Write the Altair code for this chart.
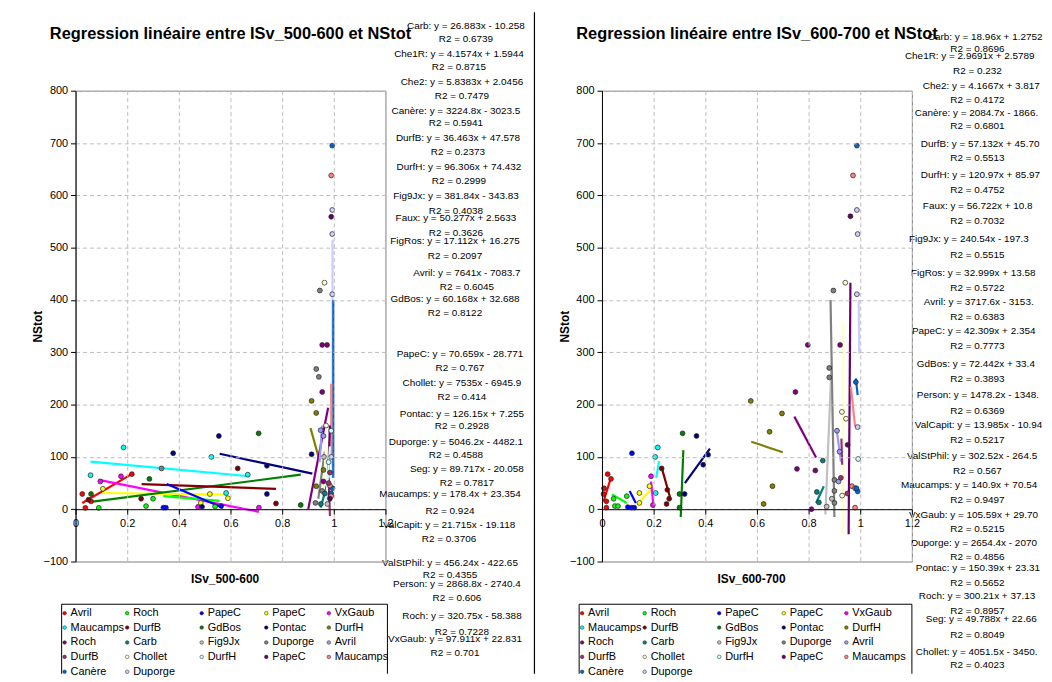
import altair as alt
import pandas as pd

FONT = "Liberation Sans"

# ---------------- series (legend order) ----------------
SERIES_NAMES = ["Avril", "Roch", "PapeC", "PapeC", "VxGaub",
                "Maucamps", "DurfB", "GdBos", "Pontac", "DurfH",
                "Roch", "Carb", "Fig9Jx", "Duporge", "Avril",
                "DurfB", "Chollet", "DurfH", "PapeC", "Maucamps",
                "Canère", "Duporge"]
SERIES_COLORS = ["#FF0000", "#00FF00", "#0000FF", "#FFFF00", "#FF00FF",
                 "#00FFFF", "#800000", "#008000", "#000080", "#808000",
                 "#800080", "#008080", "#C0C0C0", "#808080", "#9999FF",
                 "#993366", "#FFFFCC", "#CCFFFF", "#660066", "#FF8080",
                 "#0066CC", "#CCCCFF"]
SERIES_IDS = [f"s{i:02d}" for i in range(len(SERIES_NAMES))]

X_TICKS = [0, 0.2, 0.4, 0.6, 0.8, 1.0, 1.2]
Y_TICKS = [-100, 0, 100, 200, 300, 400, 500, 600, 700, 800]

# ---------------- left panel : ISv_500-600 ----------------
L_TITLE = "Regression linéaire entre ISv_500-600 et NStot"
L_XTITLE = "ISv_500-600"
L_PT_S = [0, 0, 0, 0,
          1, 1, 1, 1,
          7, 7, 7, 7,
          5, 5, 5, 5, 5,
          4, 4, 4, 4,
          3, 3, 3, 3,
          6, 6, 6, 6,
          8, 8, 8, 8, 8, 8,
          2, 2, 2,
          9, 9, 9, 9,
          13, 13, 13, 13, 13, 13,
          10, 10, 10, 10,
          14, 14,
          20, 20, 20,
          19, 19, 19,
          21, 21, 21, 21,
          18, 18,
          16, 16,
          12, 12,
          11, 11,
          15, 15,
          17, 17]
L_PT_X = [0.026, 0.038, 0.218, 0.06,
          0.09, 0.273, 0.30, 0.54,
          0.06, 0.709, 0.872, 0.286,
          0.058, 0.186, 0.526, 0.583, 0.667,
          0.096, 0.176, 0.474, 0.71,
          0.106, 0.485, 0.52, 0.59,
          0.254, 0.628, 0.776, 0.05,
          0.378, 0.555, 0.741, 0.741, 0.49, 0.914,
          0.34, 0.564, 0.35,
          0.914, 0.932, 0.96, 0.932,
          0.932, 0.942, 0.955, 0.929, 0.946, 0.333,
          0.955, 0.974, 0.955, 0.96,
          0.949, 0.96,
          0.994, 0.995, 0.99,
          0.99, 0.99, 0.985,
          0.994, 0.994, 0.994, 0.99,
          0.99, 0.985,
          0.964, 0.97,
          0.975, 0.962,
          0.95, 0.965,
          0.98, 0.985,
          0.99, 0.98]
L_PT_Y = [29, 2.5, 67, 15,
          2.5, 6, 20, 5,
          29, 145, 8, 58,
          65, 118, 100, 31, 66,
          53, 63, 4.5, 3,
          39, 12, 29, 21,
          20, 78, 11, 18,
          107, 140, 83, 29, 4.5, 105,
          3, 6, 3,
          207, 184, 75, 44,
          268, 253, 35, 12, 418, 78,
          314, 314, 224, 53,
          151, 140,
          695, 40, 30,
          638, 25, 45,
          572, 526, 411, 100,
          559, 20,
          433, 160,
          10, 100,
          10, 30,
          50, 70,
          150, 90]

L_LN_S = [0, 5, 4, 3, 7, 6, 1, 2, 8, 9, 10, 11, 15, 21, 20, 19, 14, 13, 18, 16, 17]
L_LN_X1 = [0.026, 0.058, 0.09, 0.103, 0.058, 0.256, 0.34, 0.353, 0.558, 0.91, 0.901,
           0.949, 0.985, 0.995, 0.998, 0.99, 0.945, 0.94, 0.975, 0.96, 0.97]
L_LN_Y1 = [12, 91, 56, 31, 14, 48, 25, 48, 106, 155, 0,
           3, -13, 60, 60, 100, 90, 20, 20, 30, 10]
L_LN_X2 = [0.224, 0.673, 0.71, 0.59, 0.872, 0.776, 0.558, 0.571, 0.917, 0.942, 0.978,
           0.974, 0.98, 0.995, 0.998, 0.99, 0.955, 0.965, 0.985, 0.97, 0.985]
L_LN_Y2 = [69, 63, -5, 28, 66, 39, 16, 3, 68, 98, 194,
           47, 60, 515, 400, 240, 160, 110, 160, 120, 120]

L_EQ = ["Carb: y = 26.883x - 10.258", "Che1R: y = 4.1574x + 1.5944",
        "Che2: y = 5.8383x + 2.0456", "Canère: y = 3224.8x - 3023.5",
        "DurfB: y = 36.463x + 47.578", "DurfH: y = 96.306x + 74.432",
        "Fig9Jx: y = 381.84x - 343.83", "Faux: y = 50.277x + 2.5633",
        "FigRos: y = 17.112x + 16.275", "Avril: y = 7641x - 7083.7",
        "GdBos: y = 60.168x + 32.688", "PapeC: y = 70.659x - 28.771",
        "Chollet: y = 7535x - 6945.9", "Pontac: y = 126.15x + 7.255",
        "Duporge: y = 5046.2x - 4482.1", "Seg: y = 89.717x - 20.058",
        "Maucamps: y = 178.4x + 23.354", "ValCapit: y = 21.715x - 19.118",
        "ValStPhil: y = 456.24x - 422.65", "Person: y = 2868.8x - 2740.4",
        "Roch: y = 320.75x - 58.388", "VxGaub: y = 97.911x + 22.831"]
L_R2 = ["R2 = 0.6739", "R2 = 0.8715", "R2 = 0.7479", "R2 = 0.5941",
        "R2 = 0.2373", "R2 = 0.2999", "R2 = 0.4038", "R2 = 0.3626",
        "R2 = 0.2097", "R2 = 0.6045", "R2 = 0.8122", "R2 = 0.767",
        "R2 = 0.414", "R2 = 0.2928", "R2 = 0.4588", "R2 = 0.7817",
        "R2 = 0.924", "R2 = 0.3706", "R2 = 0.4355", "R2 = 0.606",
        "R2 = 0.7228", "R2 = 0.701"]

# ---------------- right panel : ISv_600-700 ----------------
R_TITLE = "Regression linéaire entre ISv_600-700 et NStot"
R_XTITLE = "ISv_600-700"
R_PT_S = [0, 0, 0, 0, 0, 0,
          1, 1, 1, 1,
          2, 2, 2, 2,
          3, 3, 3,
          4, 4,
          5, 5, 5,
          6, 6, 6, 6,
          7, 7, 7,
          8, 8, 8, 8,
          9, 9, 9, 9, 9,
          10, 10, 10, 10, 10, 10,
          11, 11, 11,
          12, 12,
          13, 13, 13, 13, 13, 13,
          14, 14, 14,
          18, 18,
          16, 16, 16, 16,
          19, 19, 19, 19,
          20, 20, 20, 20,
          21, 21, 21, 21,
          17,
          15, 15]
R_PT_X = [0.006, 0.017, 0.022, 0.017, 0.035, 0.008,
          0.05, 0.062, 0.096, 0.045,
          0.116, 0.10, 0.115, 0.125,
          0.145, 0.145, 0.184,
          0.19, 0.197,
          0.206, 0.216, 0.208,
          0.231, 0.253, 0.25, 0.26,
          0.312, 0.30, 0.30,
          0.366, 0.392, 0.411, 0.32,
          0.576, 0.626, 0.649, 0.66, 0.697,
          0.749, 0.797, 0.755, 0.826, 0.811, 0.922,
          0.855, 0.832, 0.84,
          0.87, 0.89,
          0.88, 0.88, 0.90, 0.90, 0.90, 0.896,
          0.91, 0.916, 0.92,
          0.951, 0.962,
          0.929, 0.945, 0.93, 0.942,
          0.968, 0.98, 0.98, 0.972,
          0.99, 0.983, 0.987, 0.985,
          0.99, 0.987, 0.99, 0.987,
          0.992,
          0.925, 0.95]
R_PT_Y = [29, 15, 67, 3, 58, 40,
          6, 6, 25, 20,
          107, 4, 3, 3,
          31, 12, 44,
          63, 8,
          100, 118, 31,
          78, 37, 10, 20,
          145, 29, 3,
          140, 85, 104, 29,
          207, 10, 148, 44, 183,
          224, 314, 77, 74, 0, 314,
          93, 33, 13,
          5, 20,
          270, 252, 56, 35, 12, 418,
          150, 53, 110,
          123, 560,
          186, 173, 26, 433,
          44, 40, 3, 638,
          34, 243, 695, 40,
          157, 572, 526, 411,
          96,
          60, 30]

R_LN_S = [0, 1, 2, 3, 4, 5, 6, 7, 8, 9, 10, 11, 12, 13, 16, 18, 14, 15, 19, 20, 21]
R_LN_X1 = [0.006, 0.039, 0.107, 0.145, 0.19, 0.21, 0.231, 0.305, 0.321, 0.578, 0.745,
           0.829, 0.865, 0.90, 0.934, 0.955, 0.91, 0.927, 0.964, 0.983, 0.996]
R_LN_Y1 = [15, 28, 35, 15, 53, 60, 80, -15, 50, 129, 177,
           12, -10, -15, -48, -48, 148, 135, 234, 250, 297]
R_LN_X2 = [0.032, 0.096, 0.131, 0.189, 0.20, 0.221, 0.266, 0.315, 0.418, 0.70, 0.829,
           0.859, 0.888, 0.885, 0.934, 0.962, 0.925, 0.93, 0.98, 0.99, 0.994]
R_LN_Y2 = [56, 12, 12, 37, 3, 92, 18, 113, 116, 109, 99,
           44, 265, 400, 357, 433, 91, 85, 158, 218, 400]

R_EQ = ["Carb: y = 18.96x + 1.2752", "Che1R: y = 2.9691x + 2.5789",
        "Che2: y = 4.1667x + 3.817", "Canère: y = 2084.7x - 1866.",
        "DurfB: y = 57.132x + 45.70", "DurfH: y = 120.97x + 85.97",
        "Faux: y = 56.722x + 10.8", "Fig9Jx: y = 240.54x - 197.3",
        "FigRos: y = 32.999x + 13.58", "Avril: y = 3717.6x - 3153.",
        "PapeC: y = 42.309x + 2.354", "GdBos: y = 72.442x + 33.4",
        "Person: y = 1478.2x - 1348.", "ValCapit: y = 13.985x - 10.94",
        "ValStPhil: y = 302.52x - 264.5", "Maucamps: y = 140.9x + 70.54",
        "VxGaub: y = 105.59x + 29.70", "Duporge: y = 2654.4x - 2070",
        "Pontac: y = 150.39x + 23.31", "Roch: y = 300.21x + 37.13",
        "Seg: y = 49.788x + 22.66", "Chollet: y = 4051.5x - 3450."]
R_R2 = ["R2 = 0.8696", "R2 = 0.232", "R2 = 0.4172", "R2 = 0.6801",
        "R2 = 0.5513", "R2 = 0.4752", "R2 = 0.7032", "R2 = 0.5515",
        "R2 = 0.5722", "R2 = 0.6383", "R2 = 0.7773", "R2 = 0.3893",
        "R2 = 0.6369", "R2 = 0.5217", "R2 = 0.567", "R2 = 0.9497",
        "R2 = 0.5215", "R2 = 0.4856", "R2 = 0.5652", "R2 = 0.8957",
        "R2 = 0.8049", "R2 = 0.4023"]

# ---------------- layout (pixel positions in the page picture) ----------------
W, H = 312, 474                 # plot area of each panel
L_ORIGIN = (75, 87)
R_ORIGIN = (605, 87)
PAGE_RIGHT, PAGE_BOTTOM = 1044, 674

L_EQ_Y = [22, 50, 78, 107, 135, 164, 193, 215, 238, 271, 297, 352, 381, 412,
          441, 468, 493, 524, 562, 584, 616, 639]
L_R2_Y = [35, 63, 92, 120, 149, 178, 208, 230, 253, 285, 311, 366, 395, 425,
          454, 482, 510, 538, 575, 598, 632, 653]
L_CX = [468, 461, 464, 458, 460, 461, 458, 458, 457, 469, 457, 462, 464, 464,
        458, 469, 452, 451, 452, 459, 464, 457]

R_EQ_Y = [33, 52, 82, 109, 141, 172, 203, 236, 271, 300, 329, 362, 393, 424,
          455, 484, 514, 542, 568, 596, 619, 652]
R_R2_Y = [45, 67, 96, 123, 155, 187, 218, 252, 286, 315, 344, 377, 409, 439,
          470, 499, 528, 556, 583, 611, 635, 665]
R_EQ_X = [933, 910, 928, 920, 926, 926, 928, 914, 916, 929, 917, 922, 922, 920,
          912, 906, 914, 916, 921, 924, 931, 921]
R_R2_CX = 983

LEG_COL_DX = [3, 66, 141, 206, 269]
LEG_ROW_Y = [613, 627.5, 642.5, 657, 672]
L_LEG_BOX = (61, 389, 604)
R_LEG_BOX = (582, 917, 604)

cscale = alt.Scale(domain=SERIES_IDS, range=SERIES_COLORS)
xscale = alt.Scale(domain=[0, 1.2], nice=False, zero=False)
yscale = alt.Scale(domain=[-100, 800], nice=False, zero=False)
ZERO_OFFSET = -(H - H * 800 / 900)


def one_row():
    return pd.DataFrame({"k": [0]})


def panel(origin, title, xtitle, pts, lns, eq_df, r2_df, eq_align, leg_box,
          anchor_x, divider):
    ox, oy = origin
    x_axis = alt.Axis(values=X_TICKS, format="~g", title=xtitle,
                      offset=ZERO_OFFSET, labelFlush=False, labelOverlap=False,
                      tickSize=5, labelPadding=3, titleX=150, titleY=70,
                      titleBaseline="middle", zindex=1)
    y_axis = alt.Axis(values=Y_TICKS, title="NStot", labelFlush=False,
                      labelOverlap=False, tickSize=5, labelPadding=3,
                      titleX=-38, titleBaseline="middle", zindex=1)

    anchor = alt.Chart(one_row()).mark_rect(opacity=0).encode(
        x=alt.value(anchor_x[0] - ox), x2=alt.value(anchor_x[1] - ox),
        y=alt.value(8 - oy), y2=alt.value(PAGE_BOTTOM - oy))

    lines = alt.Chart(lns).mark_rule(strokeWidth=2.2).encode(
        x=alt.X("x1:Q", scale=xscale, axis=x_axis),
        x2="x2:Q",
        y=alt.Y("y1:Q", scale=yscale, axis=y_axis),
        y2="y2:Q",
        stroke=alt.Stroke("sid:N", scale=cscale, legend=None))

    points = alt.Chart(pts).mark_circle(size=24, stroke="#222222",
                                        strokeWidth=0.7, opacity=1).encode(
        x=alt.X("x:Q", scale=xscale, axis=x_axis),
        y=alt.Y("y:Q", scale=yscale, axis=y_axis),
        fill=alt.Fill("sid:N", scale=cscale, legend=None))

    eq_df = eq_df.assign(px=eq_df["ix"] - ox, py=eq_df["iy"] - oy)
    r2_df = r2_df.assign(px=r2_df["ix"] - ox, py=r2_df["iy"] - oy)
    eq_text = alt.Chart(eq_df).mark_text(font=FONT, fontSize=10, color="black",
                                         align=eq_align, baseline="middle").encode(
        x=alt.X("px:Q", scale=None, axis=None),
        y=alt.Y("py:Q", scale=None, axis=None),
        text="t:N")
    r2_text = alt.Chart(r2_df).mark_text(font=FONT, fontSize=10, color="black",
                                         align="center", baseline="middle").encode(
        x=alt.X("px:Q", scale=None, axis=None),
        y=alt.Y("py:Q", scale=None, axis=None),
        text="t:N")

    title_mark = alt.Chart(pd.DataFrame({"t": [title]})).mark_text(
        font=FONT, fontSize=16.5, fontWeight="bold", color="black",
        align="center", baseline="middle").encode(
        x=alt.value(W / 2), y=alt.value(30 - oy), text="t:N")

    bl, br, bt = leg_box
    frame = pd.DataFrame({
        "x": [bl - ox, bl - ox, br - ox],
        "x2": [bl - ox, br - ox, br - ox],
        "y": [bt - oy, bt - oy, bt - oy],
        "y2": [PAGE_BOTTOM - oy, bt - oy, PAGE_BOTTOM - oy]})
    frame_mark = alt.Chart(frame).mark_rule(color="black", strokeWidth=1).encode(
        x=alt.X("x:Q", scale=None, axis=None), x2="x2:Q",
        y=alt.Y("y:Q", scale=None, axis=None), y2="y2:Q")

    leg = pd.DataFrame({"sid": SERIES_IDS, "name": SERIES_NAMES})
    leg["px"] = [bl + LEG_COL_DX[i % 5] - ox for i in range(len(leg))]
    leg["py"] = [LEG_ROW_Y[i // 5] - oy for i in range(len(leg))]
    leg["tx"] = leg["px"] + 6
    leg_pts = alt.Chart(leg).mark_circle(size=13, stroke="#222222",
                                         strokeWidth=0.5, opacity=1).encode(
        x=alt.X("px:Q", scale=None, axis=None),
        y=alt.Y("py:Q", scale=None, axis=None),
        fill=alt.Fill("sid:N", scale=cscale, legend=None))
    leg_txt = alt.Chart(leg).mark_text(font=FONT, fontSize=11, color="black",
                                       align="left", baseline="middle").encode(
        x=alt.X("tx:Q", scale=None, axis=None),
        y=alt.Y("py:Q", scale=None, axis=None),
        text="name:N")

    layers = [anchor, lines, points, eq_text, r2_text, title_mark,
              frame_mark, leg_pts, leg_txt]
    if divider is not None:
        layers.append(alt.Chart(one_row()).mark_rule(color="black", strokeWidth=1.2).encode(
            x=alt.value(divider - ox), y=alt.value(8 - oy),
            y2=alt.value(PAGE_BOTTOM - oy)))
    return alt.layer(*layers).properties(width=W, height=H)


def pts_df(s, x, y):
    return pd.DataFrame({"sid": [SERIES_IDS[i] for i in s], "x": x, "y": y})


def lns_df(s, x1, y1, x2, y2):
    return pd.DataFrame({"sid": [SERIES_IDS[i] for i in s],
                         "x1": x1, "y1": y1, "x2": x2, "y2": y2})


left = panel(L_ORIGIN, L_TITLE, L_XTITLE,
             pts_df(L_PT_S, L_PT_X, L_PT_Y),
             lns_df(L_LN_S, L_LN_X1, L_LN_Y1, L_LN_X2, L_LN_Y2),
             pd.DataFrame({"t": L_EQ, "ix": L_CX, "iy": L_EQ_Y}),
             pd.DataFrame({"t": L_R2, "ix": L_CX, "iy": L_R2_Y}),
             "center", L_LEG_BOX, (8, 537), None)

right = panel(R_ORIGIN, R_TITLE, R_XTITLE,
              pts_df(R_PT_S, R_PT_X, R_PT_Y),
              lns_df(R_LN_S, R_LN_X1, R_LN_Y1, R_LN_X2, R_LN_Y2),
              pd.DataFrame({"t": R_EQ, "ix": R_EQ_X, "iy": R_EQ_Y}),
              pd.DataFrame({"t": R_R2, "ix": [R_R2_CX] * len(R_R2), "iy": R_R2_Y}),
              "left", R_LEG_BOX, (537, PAGE_RIGHT), 537)

chart = alt.hconcat(left, right, spacing=R_ORIGIN[0] - L_ORIGIN[0] - W,
                    bounds="flush").properties(padding=0).configure_view(
    stroke="#808080", strokeWidth=1).configure_axis(
    labelFont=FONT, titleFont=FONT, labelFontSize=11, titleFontSize=12,
    labelColor="black", titleColor="black", titleFontWeight="bold",
    domainColor="black", tickColor="black", gridColor="#bdbdbd",
    gridDash=[4, 3], domainWidth=1, tickWidth=1)

chart.save("out.html", embed_options={"renderer": "svg", "actions": False})
